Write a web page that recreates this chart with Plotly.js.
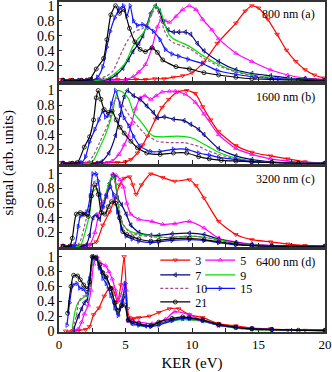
<!DOCTYPE html>
<html>
<head>
<meta charset="utf-8">
<script src="https://cdn.plot.ly/plotly-3.0.1.min.js"></script>
<style>body{margin:0;background:white;} #myDiv{width:332px;height:372px;}</style>
</head>
<body>
<div id="myDiv"></div>
<script>
// harmonic orders and panel labels
var orders = ['3', '5', '7', '9', '10', '15', '21'];
var panelLabels = ['800 nm (a)', '1600 nm (b)', '3200 nm (c)', '6400 nm (d)'];

// panel (a) 800 nm, [KER, signal]
var a3 = [[0.2,0.02],[0.9,0.02],[1.6,0.02],[2.3,0.02],[3.0,0.02],[3.7,0.02],[4.4,0.02],[5.1,0.02],[5.8,0.02],[6.5,0.02],[7.2,0.03],[7.9,0.03],[8.6,0.05],[9.3,0.07],[10.0,0.11],[10.9,0.25],[11.9,0.5],[13.3,0.77],[14.0,0.93],[14.5,1.0],[15.0,0.97],[15.7,0.82],[16.4,0.62],[17.1,0.41],[17.8,0.26],[18.5,0.15],[19.2,0.08],[19.9,0.04]];
var a5 = [[0.3,0.01],[2,0.01],[4,0.01],[5.0,0.02],[5.6,0.06],[6.0,0.12],[6.5,0.22],[7.0,0.45],[7.4,0.72],[7.7,0.82],[8.0,0.8],[8.3,0.78],[8.8,0.86],[9.3,0.95],[9.8,1.0],[10.3,0.95],[10.8,0.82],[11.5,0.68],[12,0.56],[13.3,0.37],[14.5,0.26],[15.9,0.15],[17.2,0.08],[18.5,0.04],[20,0.02]];
var a7 = [[0.3,0.01],[2,0.01],[3.3,0.01],[3.8,0.03],[4.3,0.08],[4.8,0.17],[5.2,0.28],[5.55,0.39],[6.0,0.5],[6.3,0.6],[6.6,0.74],[6.9,0.9],[7.25,1.0],[7.55,0.93],[7.85,0.78],[8.2,0.68],[8.6,0.65],[9.0,0.65],[9.5,0.65],[9.9,0.62],[10.4,0.5],[10.9,0.4],[12.0,0.26],[13.3,0.15],[14.5,0.1],[15.9,0.07],[17.2,0.04],[18.5,0.03],[20,0.02]];
var a9 = [[0.3,0.01],[3.0,0.01],[3.6,0.03],[4.2,0.1],[4.7,0.18],[5.05,0.26],[5.5,0.44],[5.9,0.55],[6.3,0.63],[6.6,0.72],[6.9,0.88],[7.2,0.99],[7.45,0.98],[7.7,0.9],[8.0,0.73],[8.3,0.61],[8.7,0.55],[9.2,0.51],[9.8,0.46],[10.9,0.33],[12.0,0.22],[13.3,0.13],[14.5,0.08],[15.9,0.05],[17.5,0.03],[20,0.02]];
var a10 = [[0.3,0.01],[2.5,0.01],[3.0,0.03],[3.6,0.07],[4.05,0.13],[4.5,0.3],[4.9,0.45],[5.2,0.55],[5.7,0.66],[6.3,0.7],[6.7,0.76],[7.0,0.9],[7.3,0.97],[7.6,0.85],[7.9,0.68],[8.3,0.55],[8.7,0.5],[9.2,0.47],[9.8,0.43],[10.9,0.3],[12,0.2],[13.3,0.12],[14.5,0.07],[16,0.04],[18,0.02],[20,0.01]];
var a15 = [[0.3,0.01],[1.5,0.01],[2.5,0.01],[2.9,0.05],[3.3,0.19],[3.6,0.45],[3.85,0.66],[4.2,0.84],[4.55,0.96],[4.85,1.0],[5.1,0.86],[5.35,1.0],[5.6,0.8],[5.9,0.74],[6.3,0.75],[6.7,0.71],[7.1,0.66],[7.6,0.55],[8.0,0.42],[8.5,0.36],[9.0,0.33],[9.7,0.29],[10.8,0.23],[11.9,0.14],[13.3,0.09],[14.8,0.05],[16.5,0.03],[18.5,0.02],[20,0.01]];
var a21 = [[0.3,0.01],[1.0,0.01],[1.7,0.01],[2.3,0.02],[2.8,0.16],[3.35,0.3],[3.6,0.55],[3.9,0.88],[4.25,1.0],[4.55,0.9],[4.85,0.95],[5.3,0.7],[5.7,0.52],[6.1,0.42],[6.5,0.39],[7.0,0.44],[7.4,0.38],[7.8,0.28],[8.8,0.19],[9.8,0.16],[10.9,0.11],[12.0,0.08],[13.3,0.05],[14.5,0.03],[16,0.02],[18,0.01],[20,0.01]];

// panel (b) 1600 nm
var b3 = [[0.2,0.02],[0.9,0.02],[1.6,0.02],[2.3,0.02],[3.0,0.02],[3.7,0.02],[4.4,0.02],[5.0,0.03],[5.4,0.06],[5.9,0.15],[6.3,0.26],[6.65,0.38],[7.25,0.61],[7.75,0.77],[8.25,0.88],[8.9,0.98],[9.6,1.0],[10.25,0.96],[10.8,0.78],[11.4,0.6],[12,0.44],[13.3,0.25],[14.5,0.16],[15.9,0.11],[17.2,0.07],[18.5,0.03],[19.9,0.01]];
var b5 = [[0.3,0.01],[2,0.01],[3.5,0.01],[4.0,0.04],[4.5,0.13],[4.9,0.26],[5.2,0.38],[5.45,0.55],[5.75,0.75],[6.1,0.9],[6.45,0.93],[6.9,0.88],[7.3,0.93],[7.75,0.98],[8.3,0.99],[8.75,0.99],[9.5,0.95],[10.25,0.84],[10.9,0.68],[12,0.4],[13.3,0.21],[14.5,0.13],[15.9,0.07],[17.2,0.04],[18.5,0.02],[20,0.01]];
var b7 = [[0.3,0.01],[2.8,0.01],[3.2,0.03],[3.75,0.15],[4.25,0.39],[4.6,0.67],[4.9,0.92],[5.15,1.0],[5.6,0.93],[6.1,0.88],[6.6,0.79],[7.1,0.7],[7.4,0.63],[7.9,0.64],[8.6,0.61],[9.4,0.59],[9.9,0.54],[10.5,0.47],[10.9,0.4],[12,0.21],[13.3,0.11],[14.5,0.06],[16,0.03],[18,0.01],[20,0.01]];
var b9 = [[0.3,0.01],[2.3,0.01],[2.6,0.05],[3.0,0.2],[3.5,0.4],[4.0,0.68],[4.25,0.9],[4.45,1.0],[4.85,0.97],[5.25,0.88],[5.6,0.7],[6.0,0.61],[6.4,0.52],[6.75,0.43],[7.1,0.38],[7.9,0.37],[8.9,0.38],[9.9,0.36],[10.5,0.31],[11.2,0.24],[12,0.16],[13.3,0.08],[14.5,0.04],[16,0.02],[18,0.01],[20,0.01]];
var b10 = [[0.3,0.01],[1.8,0.01],[2.2,0.03],[2.6,0.12],[3.0,0.27],[3.3,0.39],[3.75,0.57],[4.0,0.75],[4.3,0.9],[4.55,0.86],[4.9,0.77],[5.4,0.63],[5.9,0.52],[6.4,0.42],[6.9,0.36],[7.4,0.31],[8.4,0.29],[9.4,0.29],[10.5,0.24],[11.2,0.18],[12,0.13],[13.3,0.07],[14.5,0.04],[16,0.02],[20,0.01]];
var b15 = [[0.3,0.01],[1.3,0.01],[1.7,0.02],[2.0,0.1],[2.3,0.3],[2.7,0.47],[3.0,0.6],[3.3,0.72],[3.5,0.64],[3.7,0.66],[3.95,0.82],[4.25,1.0],[4.6,0.8],[4.9,0.63],[5.25,0.52],[5.6,0.38],[6.1,0.24],[6.9,0.17],[7.6,0.17],[8.6,0.2],[9.6,0.2],[10.5,0.15],[11.3,0.12],[12,0.09],[13.3,0.06],[14.5,0.03],[16,0.02],[18,0.01],[20,0.01]];
var b21 = [[0.3,0.01],[1.0,0.01],[1.4,0.02],[1.9,0.23],[2.3,0.37],[2.6,0.6],[2.8,0.9],[2.95,1.0],[3.15,0.88],[3.4,0.74],[3.7,0.7],[4.0,0.72],[4.3,0.6],[4.6,0.5],[4.9,0.42],[5.4,0.31],[5.9,0.22],[6.6,0.15],[7.6,0.13],[8.6,0.15],[9.6,0.15],[10.5,0.1],[11.3,0.07],[12.2,0.05],[13.3,0.04],[14.5,0.03],[16,0.02],[18,0.01],[20,0.01]];

// panel (c) 3200 nm
var c3 = [[0.3,0.02],[1.0,0.02],[1.6,0.02],[2.3,0.03],[2.8,0.07],[3.3,0.3],[3.8,0.48],[4.2,0.66],[4.55,0.85],[4.9,0.94],[5.3,0.96],[5.55,0.85],[5.8,0.72],[6.2,0.85],[6.9,1.0],[7.8,0.95],[8.7,0.9],[9.8,0.92],[10.3,0.84],[10.9,0.67],[12,0.35],[13.3,0.17],[14.5,0.1],[15.9,0.07],[17.2,0.04],[18.5,0.02],[20,0.01]];
var c5 = [[0.3,0.01],[2.0,0.01],[2.3,0.03],[2.7,0.2],[2.95,0.42],[3.3,0.62],[3.55,0.68],[3.8,0.85],[4.05,1.0],[4.3,0.98],[4.6,0.92],[4.85,0.82],[5.1,0.6],[5.4,0.45],[6.0,0.38],[7.0,0.35],[7.8,0.31],[8.7,0.32],[9.8,0.35],[10.9,0.26],[12,0.12],[13.3,0.07],[14.5,0.04],[16,0.02],[20,0.01]];
var c7 = [[0.3,0.01],[1.8,0.01],[2.05,0.03],[2.3,0.16],[2.55,0.4],[2.8,0.44],[3.05,0.38],[3.3,0.55],[3.55,0.71],[3.8,0.87],[4.05,0.98],[4.2,0.95],[4.4,0.67],[4.7,0.58],[5.05,0.45],[5.4,0.3],[6.0,0.2],[6.9,0.16],[7.5,0.16],[8.5,0.18],[9.8,0.19],[10.9,0.17],[12,0.11],[13.3,0.06],[14.5,0.03],[16,0.02],[20,0.01]];
var c9 = [[0.3,0.01],[1.5,0.01],[1.7,0.05],[2.05,0.26],[2.3,0.45],[2.55,0.75],[2.8,0.8],[3.05,0.72],[3.3,0.57],[3.6,0.78],[3.85,0.92],[4.05,0.98],[4.3,0.84],[4.55,0.45],[4.8,0.31],[5.3,0.22],[6.0,0.18],[7.0,0.15],[8.0,0.13],[9.0,0.14],[10.0,0.15],[11.0,0.13],[12,0.1],[13.3,0.05],[14.5,0.03],[16,0.01],[20,0.01]];
var c10 = [[0.3,0.01],[1.3,0.01],[1.6,0.08],[2.0,0.35],[2.3,0.55],[2.55,0.88],[2.75,0.9],[3.0,0.72],[3.3,0.5],[3.6,0.75],[3.9,0.9],[4.1,0.94],[4.3,0.8],[4.6,0.45],[4.85,0.3],[5.3,0.2],[6.0,0.16],[7.0,0.14],[8.0,0.13],[9.0,0.14],[10,0.15],[11,0.13],[12,0.09],[13.3,0.05],[14.5,0.03],[16,0.01],[20,0.01]];
var c15 = [[0.3,0.01],[1.0,0.01],[1.2,0.03],[1.45,0.28],[1.6,0.42],[1.85,0.45],[2.1,0.48],[2.35,0.7],[2.55,1.0],[2.8,1.0],[2.95,0.9],[3.1,0.72],[3.3,0.55],[3.55,0.7],[3.85,0.82],[4.1,0.72],[4.4,0.48],[4.7,0.26],[5.05,0.15],[5.5,0.11],[6.0,0.08],[6.9,0.06],[7.5,0.07],[8.5,0.09],[9.8,0.1],[10.9,0.09],[12,0.06],[13.3,0.03],[14.5,0.02],[16,0.01],[20,0.01]];
var c21 = [[0.3,0.01],[0.8,0.01],[1.0,0.12],[1.3,0.45],[1.6,0.47],[1.9,0.45],[2.2,0.42],[2.45,0.7],[2.7,0.85],[2.95,0.72],[3.2,0.47],[3.45,0.45],[3.7,0.55],[3.95,0.62],[4.25,0.6],[4.55,0.4],[4.8,0.21],[5.1,0.17],[5.5,0.14],[6.0,0.11],[6.9,0.08],[7.5,0.09],[8.5,0.11],[9.8,0.12],[10.9,0.1],[12,0.07],[13.3,0.04],[14.5,0.02],[16,0.01],[20,0.01]];

// panel (d) 6400 nm
var d3 = [[0.5,0.0],[1.0,0.0],[1.5,0.01],[2.0,0.02],[2.3,0.06],[2.6,0.22],[3.0,0.31],[3.4,0.47],[3.75,0.57],[4.0,0.58],[4.2,0.5],[4.4,0.39],[4.65,0.62],[4.9,1.0],[5.15,0.3],[5.3,0.18],[5.65,0.17],[6.0,0.18],[6.8,0.2],[7.5,0.25],[8.3,0.3],[9.0,0.3],[9.8,0.22],[10.8,0.18],[12,0.1],[13.3,0.07],[14.5,0.04],[15.9,0.03],[17.2,0.01],[18.5,0.01],[20,0.0]];
var d5 = [[1.2,0.0],[1.45,0.03],[1.7,0.12],[1.9,0.23],[2.2,0.35],[2.4,0.55],[2.6,0.9],[2.85,1.0],[3.1,0.92],[3.5,0.88],[3.75,0.8],[4.0,0.7],[4.25,0.55],[4.45,0.42],[4.65,0.48],[4.9,0.64],[5.05,0.55],[5.25,0.13],[5.6,0.13],[6.0,0.12],[7.0,0.1],[8.0,0.16],[8.7,0.26],[9.8,0.22],[10.8,0.14],[12,0.08],[13.3,0.05],[14.5,0.03],[16,0.02],[20,0.01]];
var d7 = [[1.1,0.02],[1.45,0.2],[1.7,0.3],[1.9,0.38],[2.1,0.41],[2.3,0.63],[2.55,1.0],[2.8,0.98],[3.06,0.85],[3.3,0.78],[3.55,0.71],[3.9,0.57],[4.2,0.37],[4.45,0.23],[4.7,0.35],[5.0,0.48],[5.2,0.15],[5.5,0.1],[6.5,0.07],[7.5,0.1],[8.5,0.15],[9.3,0.17],[9.8,0.17],[10.8,0.14],[12,0.08],[13.3,0.05],[14.5,0.03],[16,0.02],[20,0.01]];
var d9 = [[1.0,0.04],[1.2,0.26],[1.45,0.39],[1.7,0.43],[1.95,0.46],[2.2,0.48],[2.45,0.89],[2.7,1.0],[2.85,1.0],[3.06,0.89],[3.4,0.73],[3.7,0.66],[4.05,0.48],[4.3,0.3],[4.45,0.24],[4.7,0.42],[4.98,0.57],[5.2,0.15],[5.5,0.09],[6,0.07],[7,0.07],[8,0.11],[9,0.15],[9.8,0.15],[10.8,0.13],[12,0.08],[13.3,0.04],[14.5,0.02],[16,0.01],[20,0.01]];
var d10 = [[1.0,0.02],[1.3,0.2],[1.5,0.4],[1.8,0.47],[2.2,0.48],[2.5,0.9],[2.7,1.0],[3.0,0.92],[3.4,0.75],[3.7,0.66],[4.0,0.5],[4.3,0.3],[4.45,0.25],[4.7,0.4],[5.0,0.55],[5.2,0.16],[5.5,0.1],[6,0.08],[7,0.08],[8,0.12],[9,0.16],[9.8,0.16],[10.8,0.13],[12,0.08],[13.3,0.04],[14.5,0.02],[16,0.01],[20,0.01]];
var d15 = [[0.6,0.08],[0.8,0.38],[1.05,0.62],[1.35,0.64],[1.55,0.58],[1.8,0.57],[2.1,0.5],[2.3,0.7],[2.55,0.99],[2.8,0.99],[3.05,0.85],[3.3,0.71],[3.55,0.64],[3.9,0.48],[4.2,0.31],[4.45,0.21],[4.75,0.39],[5.0,0.64],[5.2,0.15],[5.5,0.11],[6.0,0.08],[6.9,0.06],[7.5,0.08],[8.5,0.14],[9.3,0.17],[9.8,0.17],[10.8,0.14],[12,0.08],[13.3,0.05],[14.5,0.03],[16,0.02],[20,0.01]];
var d21 = [[0.65,0.24],[0.9,0.6],[1.1,0.75],[1.4,0.74],[1.6,0.69],[1.85,0.62],[2.1,0.57],[2.3,0.66],[2.5,1.0],[2.75,0.98],[3.05,0.89],[3.3,0.78],[3.55,0.73],[3.9,0.57],[4.2,0.38],[4.45,0.28],[4.7,0.34],[4.95,0.35],[5.2,0.15],[5.5,0.13],[6.0,0.1],[6.9,0.07],[7.5,0.12],[8.5,0.17],[9.3,0.19],[9.8,0.18],[10.8,0.15],[12,0.09],[13.3,0.05],[14.5,0.03],[16,0.02],[18,0.01],[20,0.01]];

var panels = [
  {curves: [a3, a5, a7, a9, a10, a15, a21], xa: 'x', ya: 'y'},
  {curves: [b3, b5, b7, b9, b10, b15, b21], xa: 'x2', ya: 'y2'},
  {curves: [c3, c5, c7, c9, c10, c15, c21], xa: 'x3', ya: 'y3'},
  {curves: [d3, d5, d7, d9, d10, d15, d21], xa: 'x4', ya: 'y4'}
];

var colors = ['#ff0000', '#ff00ff', '#000080', '#00e000', '#a0508a', '#1010ff', '#000000'];
var symbols = ['triangle-down-open', 'triangle-up-open', 'triangle-left-open', null, null, 'triangle-right-open', 'circle-open'];
var legendIds = ['legend', 'legend5', 'legend2', 'legend6', 'legend3', 'legend7', 'legend4'];

var data = [];
panels.forEach(function(p, pi) {
  p.curves.forEach(function(c, i) {
    data.push({
      x: c.map(function(d) { return d[0]; }),
      y: c.map(function(d) { return d[1]; }),
      xaxis: p.xa,
      yaxis: p.ya,
      name: orders[i],
      type: 'scatter',
      mode: symbols[i] ? 'lines+markers' : 'lines',
      line: {color: colors[i], width: 1.2, shape: 'spline', smoothing: 0.6, dash: orders[i] === '10' ? '3px,2px' : 'solid'},
      marker: {symbol: symbols[i] || 'circle', size: 4, color: colors[i], line: {color: colors[i], width: 0.8}},
      showlegend: pi === 3,
      legend: legendIds[i]
    });
  });
});

function xax(ya, labels) {
  return {
    anchor: ya, domain: [0, 1], range: [0, 20],
    dtick: 5, ticks: 'inside', ticklen: 4, tickcolor: '#222',
    minor: {dtick: 2.5, ticks: 'inside', ticklen: 4, tickcolor: '#222'},
    showticklabels: labels, tickfont: {size: 13}, ticklabeloverflow: 'allow',
    showline: true, mirror: true, linecolor: '#333', linewidth: 1.5,
    showgrid: false, zeroline: false
  };
}
function yax(xa, dom, rng, vals) {
  return {
    anchor: xa, domain: dom, range: rng,
    tickvals: vals, ticktext: vals.map(String),
    ticks: 'inside', ticklen: 3, tickcolor: '#222', tickfont: {size: 14}, ticklabeloverflow: 'allow',
    showline: true, mirror: true, linecolor: '#333', linewidth: 1.5,
    showgrid: false, zeroline: false
  };
}
function leg(x, y) {
  return {x: x, y: y, xanchor: 'left', yanchor: 'middle', bgcolor: 'rgba(0,0,0,0)', font: {size: 12}};
}

var ticks = [0.2, 0.4, 0.6, 0.8, 1];
var layout = {
  width: 332, height: 372,
  margin: {l: 59, r: 7, t: 2, b: 40},
  paper_bgcolor: 'white', plot_bgcolor: 'white',
  font: {family: 'Liberation Serif, serif', size: 13, color: 'black'},
  xaxis: xax('y', false),
  xaxis2: xax('y2', false),
  xaxis3: xax('y3', false),
  xaxis4: Object.assign(xax('y4', true), {title: {text: 'KER (eV)', font: {size: 15}}}),
  yaxis: yax('x', [0.7606, 1], [0, 1.05], ticks),
  yaxis2: yax('x2', [0.5091, 0.7485], [0, 1.075], ticks),
  yaxis3: yax('x3', [0.2576, 0.5], [0, 1.095], ticks),
  yaxis4: yax('x4', [0, 0.2485], [-0.013, 1.09], [0].concat(ticks)),
  legend: leg(0.362, 0.218),
  legend2: leg(0.362, 0.173),
  legend3: leg(0.362, 0.132),
  legend4: leg(0.362, 0.091),
  legend5: leg(0.531, 0.218),
  legend6: leg(0.531, 0.173),
  legend7: leg(0.531, 0.132),
  annotations: panelLabels.map(function(t, i) {
    var s = i === 0 ? '' : String(i + 1);
    return {text: t, xref: 'x' + s + ' domain', yref: 'y' + s + ' domain', x: 0.97, y: 0.96,
      xanchor: 'right', yanchor: 'top', showarrow: false, font: {size: 12}};
  }).concat([{
    text: 'signal (arb. units)', xref: 'paper', yref: 'paper', x: -0.19, y: 0.512,
    xanchor: 'center', yanchor: 'middle', textangle: -90, showarrow: false, font: {size: 15}
  }])
};

Plotly.newPlot('myDiv', data, layout, {displayModeBar: false});
</script>
</body>
</html>
